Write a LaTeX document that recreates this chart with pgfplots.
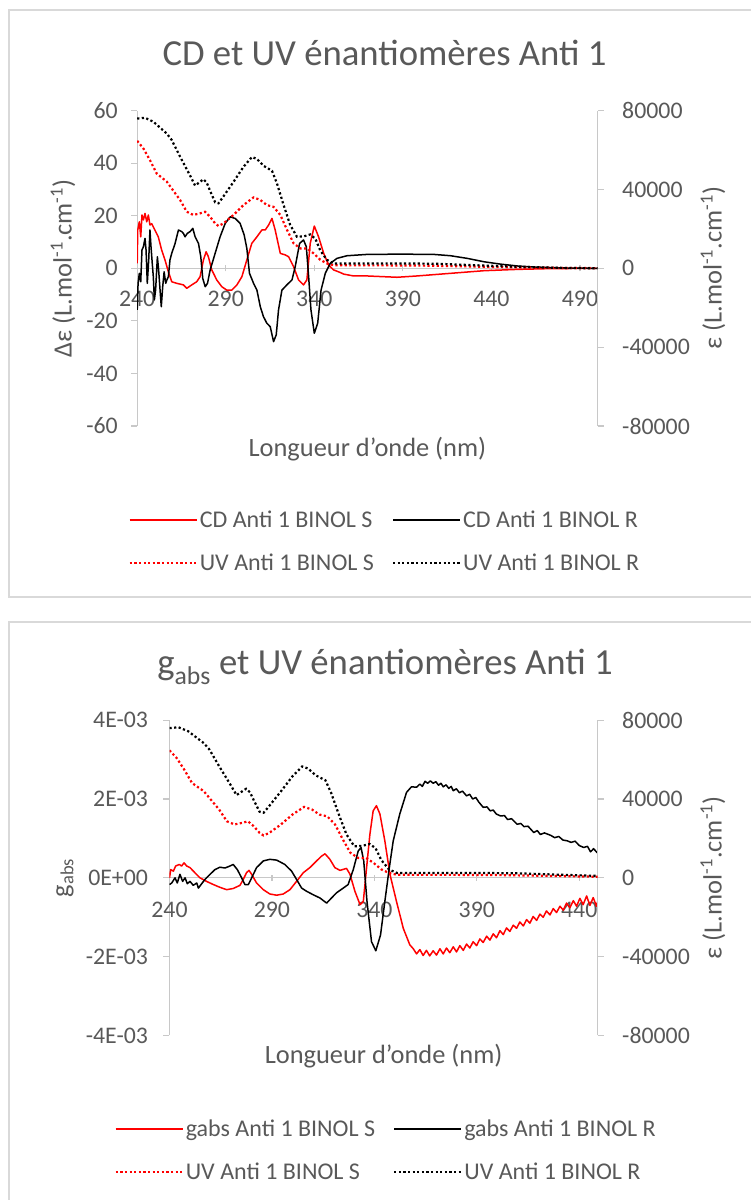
\documentclass[border=0pt]{standalone}
\usepackage{pgfplots}
\pgfplotsset{compat=1.18}
\usepackage{pgfplotstable}
\usepackage{fontspec}
\setmainfont{Carlito}
\definecolor{txt}{HTML}{595959}
\definecolor{axl}{HTML}{C8C8C8}
\definecolor{bord}{HTML}{D9D9D9}
\definecolor{rd}{HTML}{FF0000}

% ---------- UV (shared by both charts) ----------
\pgfplotstableread{
x y
240 64700
243.5 60800
247.2 54900
251.0 48100
256.7 44000
259.5 40500
264.2 34700
268.0 28700
271.7 27100
275.5 27900
278.3 28700
281.2 26100
284.0 22800
285.9 21500
288.7 22800
294.4 27100
300.0 32100
305.7 36000
309.5 34700
313.2 32100
317.0 31200
320.8 27100
324.6 19500
328.3 12700
332.1 10100
335.9 10100
339.6 7600
343.4 4300
347.1 2500
350.9 1600
360 1500
380 1500
400 1400
420 1100
440 700
460 400
480 200
500 100
}\uvS
\pgfplotstableread{
x y
240 76000
244.4 76400
249.1 74400
256.7 68400
259.5 65100
264.2 56700
269.9 47000
272.7 42000
275.5 43900
277.4 45200
279.3 43400
281.2 39200
284.0 33500
285.9 33000
288.7 36500
294.4 43900
300.0 51500
304.8 56500
307.6 55500
311.4 52000
316.1 49500
318.9 43100
322.7 32000
326.4 22000
330.2 16000
334.0 16200
337.7 17200
340.6 15000
343.4 9000
347.1 4300
350.9 2500
370 2500
390 2500
410 2300
430 1600
455 800
475 300
500 0
}\uvR

% ---------- CD (Delta epsilon) ----------
\pgfplotstableread{
x y
240 1.9
240.3 14.6
241.2 17.7
242.0 12.0
242.7 20.3
243.5 18.4
244.4 20.9
245.4 17.7
246.3 20.3
247.2 16.5
248.2 17.0
249.1 15.8
251.9 12.0
253.8 7.0
255.7 3.2
257.6 -1.3
259.5 -5.1
262.3 -5.7
266.1 -6.3
268.0 -7.6
270.8 -6.3
273.6 -5.1
275.5 -3.2
277.4 3.2
278.9 6.3
280.2 4.4
282.1 -0.6
284.9 -4.4
287.8 -7.0
290.6 -8.3
293.4 -8.3
296.3 -6.3
299.1 -3.2
301.9 3.2
304.7 9.5
307.6 12.0
310.4 14.6
312.3 14.6
314.2 16.5
316.1 19.0
317.9 14.6
320.8 5.7
323.6 5.1
325.5 4.4
328.3 0.6
331.1 -4.4
333.9 -6.3
335.8 -4.4
337.7 9.5
340.0 16.1
342.4 12.0
345.3 5.7
348.1 1.2
350.9 -0.6
354.7 -1.6
356.6 -2.2
362.2 -2.9
369.8 -2.9
386.7 -3.4
398.0 -2.9
416.9 -1.9
435.8 -0.9
454.6 -0.4
473.5 -0.1
500 0
}\cdS
\pgfplotstableread{
x y
240 -15.8
240.5 -5.7
241.2 -1.9
242.0 -5.1
242.7 7.0
243.5 8.2
244.4 11.4
245.0 7.0
245.7 -5.7
246.5 3.2
247.2 14.6
247.8 8.2
248.5 1.9
249.1 -3.2
249.7 -12.0
250.4 -8.2
251.4 4.4
252.1 -0.6
252.9 -8.2
253.6 -14.6
254.4 -7.0
255.2 -1.3
256.1 -5.7
256.7 -4.5
257.6 -3.2
258.5 3.2
259.5 5.7
261.4 9.5
263.3 14.6
265.1 14.0
266.1 13.3
267.0 12.0
268.3 13.3
269.9 14.0
271.4 15.2
272.7 12.0
274.6 9.5
275.9 4.4
277.0 -3.8
278.4 -7.0
279.7 -5.7
281.2 -0.6
284.0 5.7
286.8 12.0
289.7 17.1
292.5 19.6
295.3 19.0
298.1 17.1
300.4 12.7
301.9 7.6
303.4 -1.9
305.7 -5.7
307.6 -8.3
309.5 -14.6
311.3 -18.4
313.2 -20.9
315.1 -22.2
317.0 -27.9
318.5 -25.3
319.8 -15.8
321.7 -8.3
324.5 -6.3
327.4 -4.4
329.2 0.6
331.7 9.5
333.9 10.8
335.5 8.2
336.8 -3.2
338.1 -15.8
340.0 -24.7
341.9 -20.9
343.8 -8.3
346.2 -1.9
349.0 1.9
352.8 3.8
358.5 4.8
369.8 5.3
388.6 5.4
407.5 5.3
416.9 4.8
426.3 3.8
435.8 2.5
445.2 1.6
454.6 0.9
464.0 0.5
482.9 0.1
500 0
}\cdR

% ---------- g_abs ----------
\pgfplotstableread{
x y
240 0.0
240.6 0.00021
241.9 0.00017
243.0 0.00030
244.8 0.00034
245.9 0.00030
247.1 0.00038
248.4 0.00030
250.0 0.00026
252.4 0.00013
254.9 0.0
258.1 -0.00009
261.4 -0.00017
264.6 -0.00024
267.9 -0.00030
271.1 -0.00027
274.4 -0.00019
276.0 -0.00004
277.6 0.00013
278.8 0.00019
280.1 0.00009
282.5 -0.00013
285.8 -0.00030
289.0 -0.00041
292.3 -0.00044
295.5 -0.00041
298.8 -0.00030
302.0 -0.00009
305.3 0.00013
308.5 0.00026
311.8 0.00043
314.2 0.00055
315.9 0.00061
318.3 0.00047
320.7 0.00026
323.2 0.00019
326.4 0.00024
328.1 0.00009
330.5 -0.00034
333.0 -0.00068
334.6 -0.00060
336.2 0.00026
337.8 0.00110
339.4 0.00170
341.0 0.00183
342.7 0.00162
345.1 0.00094
347.6 0.00009
350.8 -0.00060
354.1 -0.00128
357.3 -0.00170
359.0 -0.00180
360.6 -0.00193
362.2 -0.00182
363.8 -0.00197
365.4 -0.00184
367.0 -0.00198
368.7 -0.00185
370.3 -0.00196
372.0 -0.00180
373.6 -0.00193
375.2 -0.00178
376.8 -0.00190
378.5 -0.00175
380.1 -0.00188
381.7 -0.00172
383.4 -0.00184
385.0 -0.00168
386.6 -0.00178
388.2 -0.00162
389.9 -0.00172
391.5 -0.00155
393.1 -0.00164
394.8 -0.00148
396.4 -0.00158
398.0 -0.00142
399.6 -0.00152
401.3 -0.00134
402.9 -0.00144
404.5 -0.00127
406.1 -0.00136
407.8 -0.00120
409.4 -0.00128
411.0 -0.00112
412.7 -0.00122
414.3 -0.00106
415.9 -0.00115
417.5 -0.00098
419.2 -0.00108
420.8 -0.00092
422.4 -0.00100
424.0 -0.00084
425.7 -0.00094
427.3 -0.00078
428.9 -0.00088
430.6 -0.00072
432.2 -0.00082
433.8 -0.00064
435.4 -0.00076
437.1 -0.00058
438.7 -0.00072
440.3 -0.00052
441.9 -0.00068
443.6 -0.00046
445.2 -0.00070
446.8 -0.00050
448.4 -0.00072
449 -0.00060
}\gS
\pgfplotstableread{
x y
240 -0.00017
241.1 -0.00013
242.7 0.0
243.8 -0.00013
245.1 0.00009
246.4 -0.00009
247.6 0.0
248.7 -0.00015
250.0 -0.00009
251.6 -0.00019
253.3 -0.00013
254.1 -0.00026
255.7 -0.00015
257.3 -0.00004
259.8 0.00009
262.2 0.00021
264.6 0.00027
267.1 0.00025
269.5 0.00030
271.1 0.00034
273.1 0.00021
275.2 0.0
276.8 -0.00017
278.5 -0.00017
280.1 0.0
282.5 0.00026
285.8 0.00043
289.0 0.00047
292.3 0.00045
296.3 0.00034
299.6 0.00017
302.0 -0.00004
304.5 -0.00026
306.9 -0.00034
310.2 -0.00043
313.4 -0.00051
316.7 -0.00064
319.1 -0.00051
321.5 -0.00038
324.8 -0.00026
327.2 -0.00017
329.7 0.00021
332.1 0.00068
333.5 0.00077
334.8 0.00043
336.4 -0.00060
338.6 -0.00162
340.7 -0.00185
343.0 -0.00145
345.1 -0.00060
347.3 0.00026
349.2 0.00094
352.4 0.00162
355.7 0.00217
358.1 0.00231
360.6 0.00230
362.2 0.00238
363.4 0.00232
364.7 0.00245
366.0 0.00240
367.3 0.00246
368.7 0.00240
370.0 0.00244
371.3 0.00235
372.5 0.00240
373.6 0.00231
375.0 0.00236
376.3 0.00227
377.5 0.00232
378.5 0.00221
380.0 0.00226
381.5 0.00216
383.0 0.00220
385.0 0.00208
386.5 0.00212
388.0 0.00200
389.5 0.00204
391.0 0.00192
393.1 0.00179
395.0 0.00180
396.5 0.00170
398.0 0.00172
399.5 0.00162
401.6 0.00157
403.5 0.00158
405.0 0.00148
407.0 0.00150
409.7 0.00136
411.5 0.00138
413.0 0.00130
415.0 0.00131
417.8 0.00115
419.5 0.00120
421.0 0.00110
423.0 0.00114
426.0 0.00108
428.0 0.00102
430.0 0.00105
432.0 0.00096
434.1 0.00094
436.0 0.00090
438.0 0.00093
440.0 0.00082
442.2 0.00077
444.0 0.00080
445.5 0.00066
447.0 0.00074
448.7 0.00064
449 0.00066
}\gR

\tikzset{lab/.style={font=\fontsize{26.4}{31}\selectfont, text=txt}}
\pgfplotsset{
  common/.style={
    scale only axis, height=315.3pt,
    axis line style={draw=axl, line width=1.2pt},
    tick style={draw=axl, line width=1.2pt},
    major tick length=6pt,
    tick align=outside,
    ticklabel style={font=\fontsize{23.8}{28}\selectfont, text=txt},
    clip=true,
  },
  cdline/.style={line width=1.5pt, line join=round},
  uvline/.style={line width=2.2pt, dash pattern=on 2.2pt off 2.4pt},
  leg/.style={
    legend columns=2,
    legend cell align=left,
    legend style={draw=none, fill=none, anchor=center,
      font=\fontsize{24}{29}\selectfont, text=txt,
      /tikz/every even column/.append style={column sep=16pt},
      row sep=21pt},
    legend image code/.code={\draw[##1] (0pt,0pt) -- (67pt,0pt);},
  },
}

\begin{document}
\begin{tikzpicture}
\path[use as bounding box] (0pt,0pt) rectangle (751pt,1200pt);
\fill[white] (0pt,0pt) rectangle (751pt,1200pt);
% chart boxes
\draw[bord, line width=2pt] (8.5pt,1190pt) rectangle (770pt,603pt);
\draw[bord, line width=2pt] (8.5pt,578pt) rectangle (770pt,-20pt);
% titles
\node[anchor=base, text=txt, font=\fontsize{36.7}{44}\selectfont, inner sep=0pt] at (384.5pt,1134pt) {CD et UV énantiomères Anti 1};
\node[anchor=base, text=txt, font=\fontsize{36.7}{44}\selectfont, inner sep=0pt] at (385pt,525pt) {g\textsubscript{abs} et UV énantiomères Anti 1};

% ================= Chart 1 =================
\begin{axis}[common, leg,
  at={(137.2pt,774pt)}, anchor=south west, width=460.5pt,
  xmin=240, xmax=500, ymin=-60, ymax=60,
  axis x line=middle, axis y line*=left,
  x axis line style={-}, y axis line style={-},
  hide obscured x ticks=false,
  xtick={240,290,340,390,440,490}, xticklabels={240,290,340,390,440,490},
  ytick={-60,-40,-20,0,20,40,60}, yticklabels={-60,-40,-20,0,20,40,60},
  xticklabel style={yshift=-16pt},
  yticklabel style={xshift=-10pt},
  xlabel={Longueur d'onde (nm)},
  ylabel={Δε (L.mol\textsuperscript{-1}.cm\textsuperscript{-1})},
  every axis x label/.style={lab, at={(axis description cs:0.5,-0.073)}, anchor=center},
  every axis y label/.style={lab, at={(axis description cs:-0.161,0.5)}, anchor=center, rotate=90},
  legend style={at={(axis description cs:0.538,-0.366)}},
]
\addplot[cdline, draw=rd] table[x=x,y=y]{\cdS};
\addlegendentry{CD Anti 1 BINOL S}
\addplot[cdline, draw=black] table[x=x,y=y]{\cdR};
\addlegendentry{CD Anti 1 BINOL R}
\addlegendimage{uvline, draw=rd}
\addlegendentry{UV Anti 1 BINOL S}
\addlegendimage{uvline, draw=black}
\addlegendentry{UV Anti 1 BINOL R}
\end{axis}
\begin{axis}[common,
  at={(137.2pt,774pt)}, anchor=south west, width=460.5pt,
  xmin=240, xmax=500, ymin=-80000, ymax=80000,
  axis x line=none, axis y line*=right, y axis line style={-},
  scaled y ticks=false,
  ytick={-80000,-40000,0,40000,80000}, yticklabels={-80000,-40000,0,40000,80000},
  yticklabel style={xshift=15pt},
  ylabel={ε (L.mol\textsuperscript{-1}.cm\textsuperscript{-1})},
  every axis y label/.style={lab, at={(axis description cs:1.2504,0.5)}, anchor=center, rotate=90},
]
\addplot[uvline, draw=rd] table[x=x,y=y]{\uvS};
\addplot[uvline, draw=black] table[x=x,y=y]{\uvR};
\end{axis}

% ================= Chart 2 =================
\begin{axis}[common, leg,
  at={(169.5pt,164.5pt)}, anchor=south west, width=428.2pt,
  xmin=240, xmax=449, ymin=-0.004, ymax=0.004,
  axis x line=middle, axis y line*=left,
  x axis line style={-}, y axis line style={-},
  hide obscured x ticks=false,
  xtick={240,290,340,390,440}, xticklabels={240,290,340,390,440},
  ytick={-0.004,-0.002,0,0.002,0.004}, yticklabels={-4E-03,-2E-03,0E+00,2E-03,4E-03},
  scaled y ticks=false,
  xticklabel style={yshift=-18pt},
  yticklabel style={xshift=-12pt},
  xlabel={Longueur d'onde (nm)},
  ylabel={g\textsubscript{abs}},
  every axis x label/.style={lab, at={(axis description cs:0.5,-0.065)}, anchor=center},
  every axis y label/.style={lab, at={(axis description cs:-0.244,0.5)}, anchor=center, rotate=90},
  legend style={at={(axis description cs:0.506,-0.3655)}},
]
\addplot[cdline, draw=rd] table[x=x,y=y]{\gS};
\addlegendentry{gabs Anti 1 BINOL S}
\addplot[cdline, draw=black] table[x=x,y=y]{\gR};
\addlegendentry{gabs Anti 1 BINOL R}
\addlegendimage{uvline, draw=rd}
\addlegendentry{UV Anti 1 BINOL S}
\addlegendimage{uvline, draw=black}
\addlegendentry{UV Anti 1 BINOL R}
\end{axis}
\begin{axis}[common,
  at={(169.5pt,164.5pt)}, anchor=south west, width=428.2pt,
  xmin=240, xmax=449, ymin=-80000, ymax=80000,
  axis x line=none, axis y line*=right, y axis line style={-},
  scaled y ticks=false,
  ytick={-80000,-40000,0,40000,80000}, yticklabels={-80000,-40000,0,40000,80000},
  yticklabel style={xshift=15pt},
  ylabel={ε (L.mol\textsuperscript{-1}.cm\textsuperscript{-1})},
  every axis y label/.style={lab, at={(axis description cs:1.269,0.5)}, anchor=center, rotate=90},
]
\addplot[uvline, draw=rd] table[x=x,y=y]{\uvS};
\addplot[uvline, draw=black] table[x=x,y=y]{\uvR};
\end{axis}
\end{tikzpicture}
\end{document}
